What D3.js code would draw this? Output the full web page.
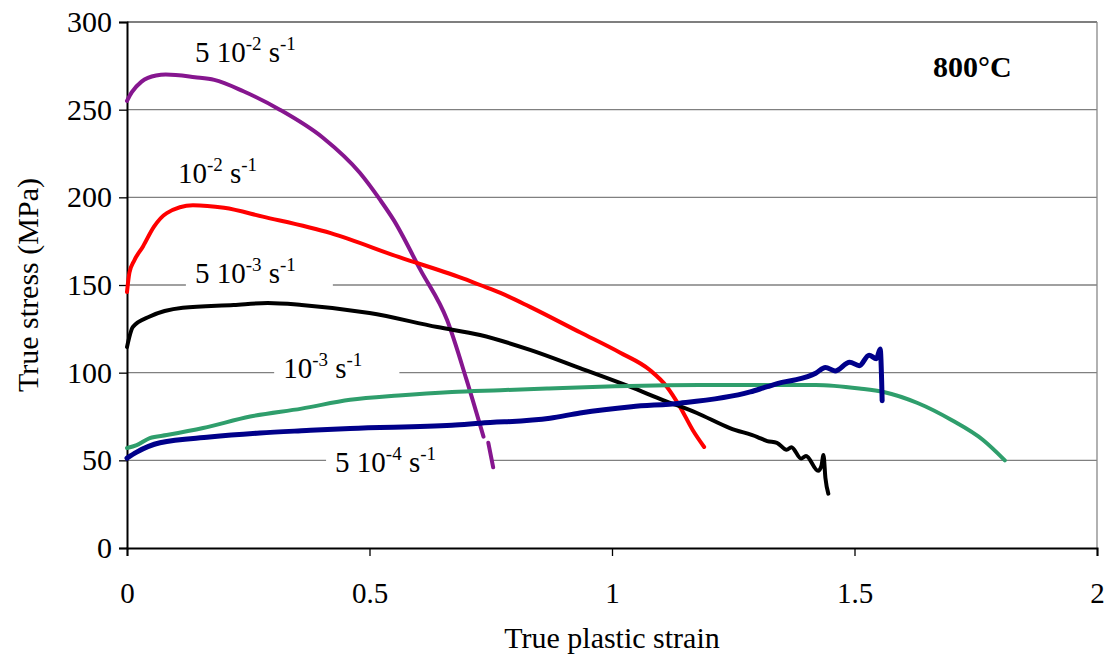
<!DOCTYPE html>
<html>
<head>
<meta charset="utf-8">
<script src="https://cdn.jsdelivr.net/npm/d3@7"></script>
<style>
  body { margin: 0; background: #fff; }
  svg text { font-family: "Liberation Serif", "Times New Roman", serif; fill: #000; }
</style>
</head>
<body>
<div id="chart"></div>
<script>
// strain rates (labels) and curves
const rateBases = ["5 10", "10", "5 10", "10", "5 10"];
const rateExps  = ["-2", "-2", "-3", "-3", "-4"];

const strain5e2 = [0, 0.01, 0.03, 0.06, 0.08, 0.14, 0.18, 0.24, 0.315, 0.404, 0.48, 0.522, 0.55, 0.605, 0.66, 0.70, 0.735, null, 0.745, 0.755];
const stress5e2 = [255, 260, 266, 269.5, 270, 268.5, 267, 260.5, 250, 234, 214, 198.5, 187, 158.6, 130, 96, 63.5, null, 60, 46];

const strain1e2 = [0, 0.005, 0.015, 0.033, 0.055, 0.082, 0.136, 0.2, 0.28, 0.42, 0.56, 0.70, 0.728, 0.77, 0.831, 0.934, 1.016, 1.078, 1.113, 1.14, 1.167, 1.19];
const stress1e2 = [146, 157, 164, 172, 183, 191, 195.5, 194, 189, 179.6, 166, 153, 150, 145.5, 137.5, 123, 111.5, 101.5, 92, 80.6, 67, 57.6];

const strain5e3 = [0, 0.012, 0.047, 0.115, 0.22, 0.29, 0.36, 0.5, 0.64, 0.728, 0.831, 0.934, 1.037, 1.105, 1.175, 1.243, 1.3, 1.32, 1.34, 1.36, 1.37, 1.39, 1.40, 1.425, 1.432, 1.436, 1.44, 1.446];
const stress5e3 = [114.6, 126, 132, 137, 138.6, 139.7, 138.6, 134, 126, 121.5, 113, 102.6, 92, 84.4, 77, 68.4, 63.3, 61, 60, 56, 57.5, 51, 52.5, 44, 47, 53, 40, 31];

const strain1e3 = [0, 0.02, 0.047, 0.082, 0.157, 0.254, 0.36, 0.46, 0.56, 0.67, 0.77, 0.87, 0.975, 1.18, 1.3, 1.42, 1.51, 1.56, 1.63, 1.70, 1.765, 1.81];
const stress1e3 = [57, 58.7, 62.7, 64.4, 68.4, 75, 79.5, 84.5, 87, 89, 90, 91, 92, 93, 93, 93, 91, 89, 82.7, 73, 61.6, 50];

const strain5e4 = [0, 0.02, 0.068, 0.17, 0.274, 0.37, 0.46, 0.67, 0.728, 0.872, 0.934, 1.04, 1.14, 1.285, 1.32, 1.353, 1.38, 1.42, 1.44, 1.46, 1.49, 1.51, 1.53, 1.545, 1.553, 1.556, 1.557];
const stress5e4 = [51.3, 54.7, 60, 63.3, 65.6, 67, 68.2, 70, 71.2, 74, 77, 80.6, 82.6, 89, 92, 94.6, 96, 99.7, 103, 101, 106, 104, 110, 108, 113.5, 95, 84];

const curveColors = ["#86168f", "#ff0000", "#000000", "#2f9e6c", "#00008a"];
// label anchor (strain, stress) of each rate label
const labelStrain = [0.14, 0.105, 0.14, 0.322, 0.429];
const labelStress = [277.2, 208.2, 151.1, 97, 43.3];
const labelPadRight = [10, 10, 37, 37, 55];

const xTicks = [0, 0.5, 1, 1.5, 2];
const yTicks = [0, 50, 100, 150, 200, 250, 300];
const xTitle = "True plastic strain";
const yTitle = "True stress (MPa)";
const tempLabel = "800°C";

let widthContainer  = 1112;
let heightContainer = 659;
let margin = {top: 22, left: 127, right: 15, bottom: 111};

let svg = d3.select('#chart')
  .append('svg')
  .attr('width', widthContainer)
  .attr('height', heightContainer);

let xScale = d3.scaleLinear()
  .domain([0, 2])
  .range([margin.left, widthContainer - margin.right]);

let yScale = d3.scaleLinear()
  .domain([0, 300])
  .range([heightContainer - margin.bottom, margin.top]);

// Grid lines
svg.append('g')
  .selectAll('line')
  .data(yTicks.filter(d => d > 0 && d < 300))
  .enter()
  .append('line')
  .attr('x1', xScale(0))
  .attr('x2', xScale(2))
  .attr('y1', d => yScale(d))
  .attr('y2', d => yScale(d))
  .style('stroke', '#808080')
  .style('stroke-width', 1.3);

// top and right frame
svg.append('line')
  .attr('x1', xScale(0)).attr('x2', xScale(2))
  .attr('y1', yScale(300)).attr('y2', yScale(300))
  .style('stroke', '#555').style('stroke-width', 1.5);
svg.append('line')
  .attr('x1', xScale(2)).attr('x2', xScale(2))
  .attr('y1', yScale(300)).attr('y2', yScale(0))
  .style('stroke', '#888').style('stroke-width', 1.3);

// x-axis
let xAxis = svg.append('g')
  .attr('class', 'x-axis')
  .attr('transform', `translate(0, ${yScale(0)})`)
  .call(d3.axisBottom(xScale).tickValues(xTicks).tickFormat(d3.format('')).tickSize(8).tickPadding(26));
xAxis.select('.domain').style('stroke', '#000').style('stroke-width', 2);
xAxis.selectAll('.tick line').style('stroke', '#000').style('stroke-width', 1.3);
xAxis.selectAll('text').style('font-size', '29px').attr('font-family', null);

// y-axis
let yAxis = svg.append('g')
  .attr('class', 'y-axis')
  .attr('transform', `translate(${xScale(0)}, 0)`)
  .call(d3.axisLeft(yScale).tickValues(yTicks).tickSize(8).tickPadding(7));
yAxis.select('.domain').style('stroke', '#000').style('stroke-width', 2);
yAxis.selectAll('.tick line').style('stroke', '#000').style('stroke-width', 1.3);
yAxis.selectAll('text').style('font-size', '30px').attr('font-family', null);

// Axis titles
svg.append('text')
  .attr('x', (xScale(0) + xScale(2)) / 2)
  .attr('y', 648)
  .style('text-anchor', 'middle')
  .style('font-size', '30px')
  .text(xTitle);

svg.append('text')
  .attr('transform', 'rotate(-90)')
  .attr('x', -285)
  .attr('y', 38)
  .style('text-anchor', 'middle')
  .style('font-size', '30px')
  .text(yTitle);

svg.append('text')
  .attr('x', 933)
  .attr('y', 77)
  .style('font-size', '30px')
  .style('font-weight', 'bold')
  .text(tempLabel);

// Rate labels: white boxes break the grid lines
let labelLayer = svg.append('g');
let labelGroups = labelLayer.selectAll('g')
  .data(rateBases.map((b, i) => ({base: b, exp: rateExps[i], x: labelStrain[i], y: labelStress[i], pad: labelPadRight[i]})))
  .enter()
  .append('g');

labelGroups.append('rect').style('fill', '#fff');

let labelText = labelGroups.append('text')
  .attr('x', d => xScale(d.x))
  .attr('y', d => yScale(d.y))
  .style('font-size', '29px');
labelText.append('tspan').text(d => d.base);
labelText.append('tspan').attr('dy', -12).style('font-size', '19px').text(d => d.exp);
labelText.append('tspan').attr('dy', 12).text(' s');
labelText.append('tspan').attr('dy', -12).style('font-size', '19px').text('-1');

labelGroups.each(function(d) {
  let bb = d3.select(this).select('text').node().getBBox();
  d3.select(this).select('rect')
    .attr('x', bb.x - 9)
    .attr('y', bb.y)
    .attr('width', bb.width + 9 + d.pad)
    .attr('height', bb.height);
});
labelGroups.select('text').remove();

// Curves
const curves = [
  [strain5e2, stress5e2],
  [strain1e2, stress1e2],
  [strain5e3, stress5e3],
  [strain1e3, stress1e3],
  [strain5e4, stress5e4]
];

let line = d3.line()
  .defined(d => d[0] !== null)
  .x(d => xScale(d[0]))
  .y(d => yScale(d[1]))
  .curve(d3.curveMonotoneX);

svg.append('g')
  .selectAll('path')
  .data(curves)
  .enter()
  .append('path')
  .attr('d', d => line(d[0].map((s, i) => [s, d[1][i]])))
  .style('fill', 'none')
  .style('stroke', (d, i) => curveColors[i])
  .style('stroke-width', (d, i) => i === 4 ? 5 : 4)
  .style('stroke-linejoin', 'round')
  .style('stroke-linecap', 'round');

// Rate label texts on top
let labelTop = svg.append('g').selectAll('text')
  .data(rateBases.map((b, i) => ({base: b, exp: rateExps[i], x: labelStrain[i], y: labelStress[i]})))
  .enter()
  .append('text')
  .attr('x', d => xScale(d.x))
  .attr('y', d => yScale(d.y))
  .style('font-size', '29px');
labelTop.append('tspan').text(d => d.base);
labelTop.append('tspan').attr('dy', -12).style('font-size', '19px').text(d => d.exp);
labelTop.append('tspan').attr('dy', 12).text(' s');
labelTop.append('tspan').attr('dy', -12).style('font-size', '19px').text('-1');
</script>
</body>
</html>
